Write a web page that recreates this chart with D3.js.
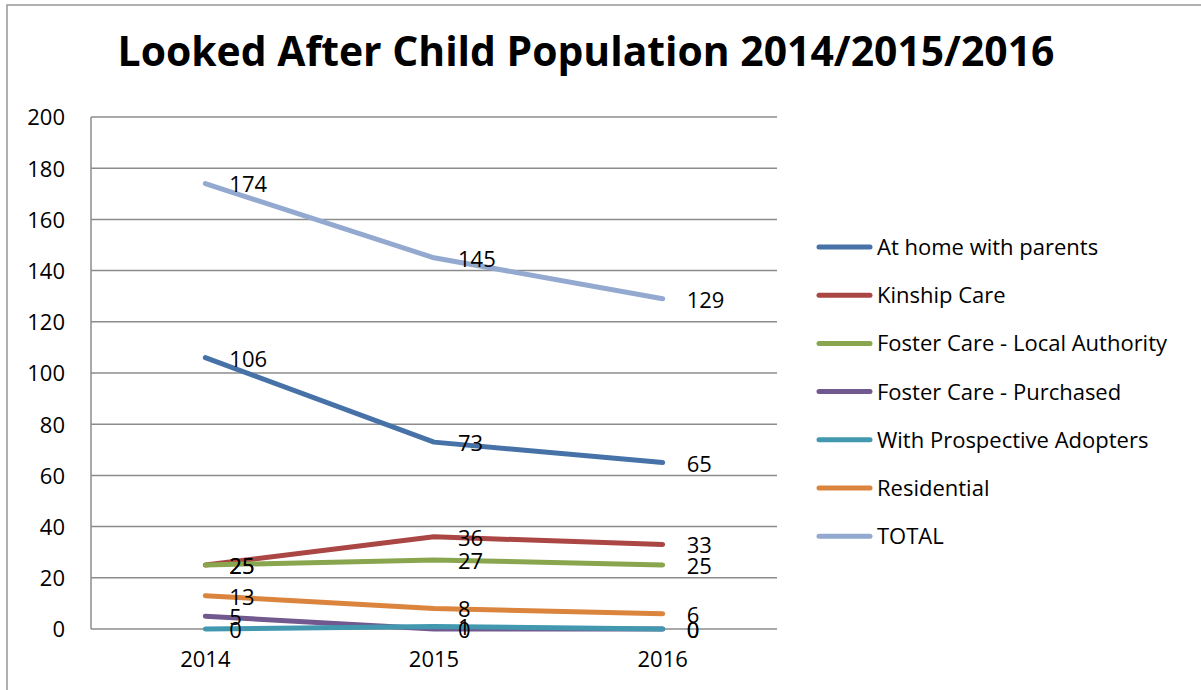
<!DOCTYPE html>
<html><head><meta charset="utf-8">
<script src="https://cdn.jsdelivr.net/npm/d3@7"></script>
<style>
html,body{margin:0;padding:0;background:#fff;overflow:hidden}
text{font-family:"Open Sans","Liberation Sans",sans-serif;fill:#000}
</style></head>
<body>
<svg id="chart" width="1201" height="690"></svg>
<script>
const title = "Looked After Child Population 2014/2015/2016";
const years = ["2014", "2015", "2016"];
const seriesNames = ["At home with parents", "Kinship Care", "Foster Care - Local Authority", "Foster Care - Purchased", "With Prospective Adopters", "Residential", "TOTAL"];
const atHome = [106, 73, 65];
const kinship = [25, 36, 33];
const fosterLA = [25, 27, 25];
const fosterPurchased = [5, 0, 0];
const adopters = [0, 1, 0];
const residential = [13, 8, 6];
const total = [174, 145, 129];
const yTicks = [0, 20, 40, 60, 80, 100, 120, 140, 160, 180, 200];
const colors = ["#4672A8", "#AA4643", "#89A54E", "#71588F", "#4198AF", "#DB843D", "#93A9CF"];

const seriesValues = [atHome, kinship, fosterLA, fosterPurchased, adopters, residential, total];
const series = seriesNames.map((n, i) => ({name: n, values: seriesValues[i], color: colors[i]}));

const svg = d3.select("#chart");
const L = 91, R = 777, T = 117, B = 629;

// outer frame
svg.append("rect").attr("x", 7).attr("y", 5).attr("width", 1400).attr("height", 900)
  .attr("fill", "none").attr("stroke", "#969696").attr("stroke-width", 1.5);

const x = d3.scaleBand().domain(years).range([L, R]);
const y = d3.scaleLinear().domain([0, 200]).range([B, T]);

// gridlines
svg.append("g").selectAll("line").data(yTicks).join("line")
  .attr("x1", L).attr("x2", R).attr("y1", d => y(d)).attr("y2", d => y(d))
  .attr("stroke", "#8c8c8c").attr("stroke-width", 1.5);
// left axis line
svg.append("line").attr("x1", L).attr("x2", L).attr("y1", T).attr("y2", B)
  .attr("stroke", "#8c8c8c").attr("stroke-width", 1.5);

// y axis labels
const yAxis = d3.axisLeft(y).tickValues(yTicks).tickSize(0).tickPadding(0);
const gy = svg.append("g").attr("transform", `translate(${L - 26},0)`).call(yAxis);
gy.select(".domain").remove();
gy.selectAll("text").style("font-size", "22px").attr("fill", "#000").attr("dy", "0.36em");

// x axis labels
const xAxis = d3.axisBottom(x).tickSize(0).tickPadding(0);
const gx = svg.append("g").attr("transform", `translate(0,${B + 22})`).call(xAxis);
gx.select(".domain").remove();
gx.selectAll("text").style("font-size", "22px").attr("fill", "#000").attr("dy", "0.71em");

const cx = d => x(d) + x.bandwidth() / 2;
const line = d3.line().x((d, i) => cx(years[i])).y(d => y(d));

// lines (draw in order)
svg.append("g").selectAll("path").data(series).join("path")
  .attr("d", s => line(s.values))
  .attr("fill", "none").attr("stroke", s => s.color).attr("stroke-width", 5)
  .attr("stroke-linecap", "round").attr("stroke-linejoin", "round");

// data labels
const lg = svg.append("g");
series.forEach(s => {
  lg.selectAll(null).data(s.values).join("text")
    .attr("x", (d, i) => cx(years[i]) + 24)
    .attr("y", d => y(d) + 1)
    .attr("dy", "0.36em")
    .style("font-size", "22px")
    .text(d => d);
});

// legend
const leg = svg.append("g");
series.forEach((s, i) => {
  const yy = 247 + i * 48.2;
  leg.append("line").attr("x1", 819).attr("x2", 870).attr("y1", yy).attr("y2", yy)
    .attr("stroke", s.color).attr("stroke-width", 5).attr("stroke-linecap", "round");
  leg.append("text").attr("x", 877).attr("y", yy).attr("dy", "0.36em")
    .style("font-size", "22px").text(s.name);
});

// title
const tt = svg.append("text").attr("x", 586).attr("y", 66).attr("text-anchor", "middle")
  .style("font-size", "42px").style("font-weight", "bold").text(title);
const w = tt.node().getComputedTextLength();
tt.style("font-size", (42 * 937 / w) + "px");
</script>
</body></html>
